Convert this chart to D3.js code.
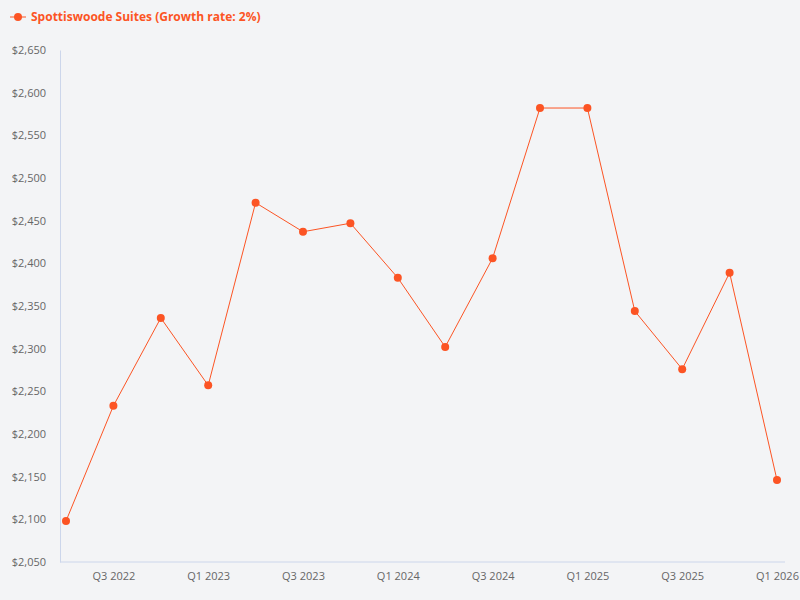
<!DOCTYPE html>
<html><head><meta charset="utf-8">
<script src="https://cdn.jsdelivr.net/npm/d3@7"></script>
<style>body{margin:0;background:#f3f4f6;font-family:"Open Sans",sans-serif}</style>
</head><body><div id="chart"></div>
<script>
const width = 800, height = 600
const quarters = ['Q2 2022','Q3 2022','Q4 2022','Q1 2023','Q2 2023','Q3 2023','Q4 2023','Q1 2024','Q2 2024','Q3 2024','Q4 2024','Q1 2025','Q2 2025','Q3 2025','Q4 2025','Q1 2026']
const rents = [2098,2233,2336,2257,2471,2437,2447,2383,2302,2406,2582,2582,2344,2276,2389,2146]
const yTicks = [2050,2100,2150,2200,2250,2300,2350,2400,2450,2500,2550,2600,2650]
const seriesName = 'Spottiswoode Suites (Growth rate: 2%)'
const color = '#fc5424'

let svg = d3.select('#chart').append('svg').attr('width', width).attr('height', height)
svg.append('rect').attr('width', width).attr('height', height).attr('fill', '#f3f4f6')

let x = d3.scalePoint().domain(quarters).range([66, 777])
let y = d3.scaleLinear().domain([2050, 2650]).range([562, 50])

let yAxis = svg.append('g').attr('transform', 'translate(60,0)')
  .call(d3.axisLeft(y).tickValues(yTicks).tickSize(0).tickPadding(14).tickFormat(d => '$' + d3.format(',')(d)))
yAxis.select('.domain').attr('stroke', '#ccd6eb')
yAxis.selectAll('text').attr('fill', '#666').style('font-size', '11px').style('font-family', 'Open Sans')

let xAxis = svg.append('g').attr('transform', 'translate(0,562)')
  .call(d3.axisBottom(x).tickValues(quarters.filter((d, i) => i % 2 === 1)).tickSize(0).tickPadding(10))
xAxis.select('.domain').attr('stroke', '#ccd6eb').attr('d', 'M60,0H785')
xAxis.selectAll('text').attr('fill', '#666').style('font-size', '11px').style('font-family', 'Open Sans')

svg.append('path').datum(rents)
  .attr('fill', 'none').attr('stroke', color).attr('stroke-width', 1)
  .attr('d', d3.line().x((d, i) => x(quarters[i])).y(d => y(d)))
svg.selectAll('circle.pt').data(rents).enter().append('circle')
  .attr('class', 'pt').attr('cx', (d, i) => x(quarters[i])).attr('cy', d => y(d)).attr('r', 4).attr('fill', color)

// legend
let lg = svg.append('g').attr('transform', 'translate(10,17)')
lg.append('line').attr('x1', 0).attr('x2', 16).attr('stroke', color)
lg.append('circle').attr('cx', 8).attr('r', 4).attr('fill', color)
lg.append('text').attr('x', 21).attr('y', 4).text(seriesName)
  .attr('fill', color).style('font-size', '12px').style('font-weight', 'bold').style('font-family', 'Open Sans')
</script></body></html>
